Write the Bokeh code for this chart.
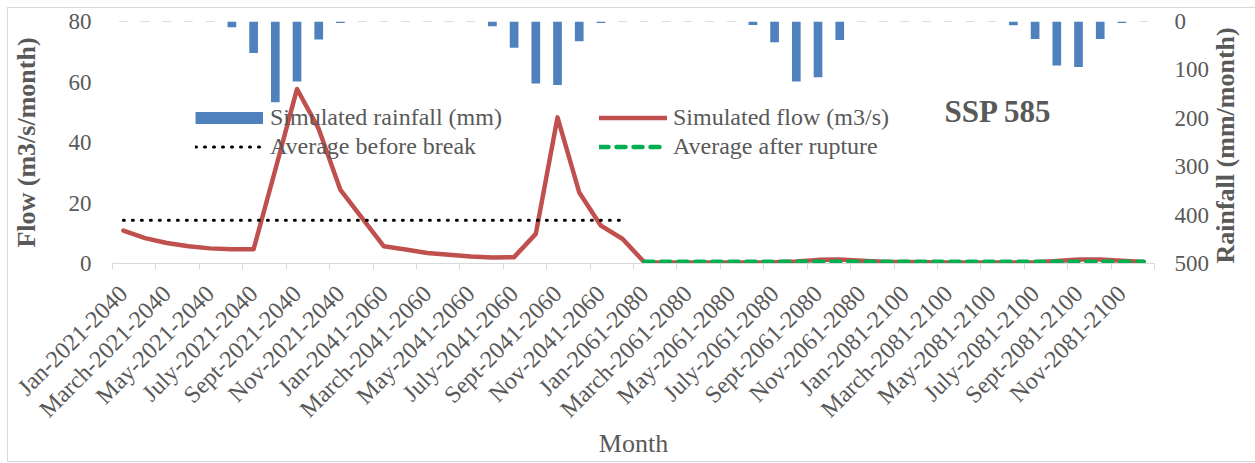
import numpy as np
from math import pi
from bokeh.plotting import figure
from bokeh.models import (Range1d, LinearAxis, FixedTicker, Legend, LegendItem, Label)
from bokeh.embed import file_html
from bokeh.resources import INLINE

# ---------------- data ----------------
month_names = ["Jan", "Feb", "March", "April", "May", "June",
               "July", "Aug", "Sept", "Oct", "Nov", "Dec"]
periods = ["2021-2040", "2041-2060", "2061-2080", "2081-2100"]
months = [f"{m}-{p}" for p in periods for m in month_names]

rainfall_mm = [
    0.8, 0.8, 0.8, 0.8, 0.8, 12, 65, 167, 124, 37, 3, 0.8,
    0.8, 0.8, 0.8, 0.8, 0.8, 10, 54, 128, 131, 41, 3, 0.8,
    0.8, 0.8, 0.8, 0.8, 0.8, 7, 43, 124, 115, 38, 1.2, 0.8,
    0.8, 0.8, 0.8, 0.8, 0.8, 8, 36, 91, 94, 36, 3, 0.8,
]
flow_m3s = [
    10.9, 8.4, 6.8, 5.7, 5.0, 4.7, 4.7, 31.0, 57.7, 44.5, 24.3, 15.0,
    5.7, 4.6, 3.5, 2.9, 2.3, 2.0, 2.1, 9.8, 48.3, 23.5, 12.5, 8.1,
    0.4, 0.35, 0.3, 0.3, 0.3, 0.3, 0.4, 0.7, 1.2, 1.3, 0.9, 0.6,
    0.5, 0.4, 0.35, 0.3, 0.3, 0.3, 0.4, 0.8, 1.3, 1.3, 0.9, 0.5,
]
avg_before_break = 14.3   # months 1-24
avg_after_rupture = 0.6   # months 25-48

FONT = "Liberation Serif"
GREY = "#595959"
AXIS = "#D9D9D9"

idx = list(range(len(months)))
n_before = 24

p = figure(frame_width=1042, frame_height=242, output_backend="svg", toolbar_location=None,
           x_range=Range1d(-0.5, 47.5), y_range=Range1d(0, 80),
           min_border_left=104, min_border_right=98,
           min_border_top=13, min_border_bottom=190)
p.styles = {"margin-left": "7px", "margin-top": "7px", "border": "1px solid #D9D9D9"}
p.extra_y_ranges = {"rain": Range1d(500, 0)}
p.xgrid.visible = False
p.ygrid.visible = False
p.outline_line_color = None
p.background_fill_color = "white"
p.border_fill_color = "white"

# ---------------- glyphs ----------------
bars = p.vbar(x=idx, top=rainfall_mm, bottom=0, width=0.4, y_range_name="rain",
              fill_color="#4F81BD", line_color=None)
flow_r = p.line(idx, flow_m3s, line_color="#C0504D", line_width=4.5,
                line_join="round", line_cap="round")
avg_b = p.line(idx[:n_before], [avg_before_break] * n_before, line_color="black",
               line_width=3, line_dash="1 8", line_cap="round")
avg_a = p.line(idx[n_before:], [avg_after_rupture] * (len(idx) - n_before),
               line_color="#00B050", line_width=4.5, line_dash="9 8", line_cap="round")
# legend key for the bar series (Excel shows a thick bar swatch)
rain_key = p.line(x=[float("nan")], y=[float("nan")], line_color="#4F81BD",
                  line_width=12, line_cap="butt")

# ---------------- axes ----------------
yl = p.left[0]
yl.ticker = FixedTicker(ticks=[0, 20, 40, 60, 80])
yl.axis_line_color = None
yl.major_tick_line_color = None
yl.minor_tick_line_color = None
yl.major_tick_out = 0
yl.major_tick_in = 0
yl.major_label_standoff = 21
yl.major_label_text_font = FONT
yl.major_label_text_font_size = "23px"
yl.major_label_text_color = GREY
yl.axis_label = "Flow (m3/s/month)"
yl.axis_label_text_font = FONT
yl.axis_label_text_font_style = "bold"
yl.axis_label_text_font_size = "26px"
yl.axis_label_text_color = GREY
yl.axis_label_standoff = 25

yr = LinearAxis(y_range_name="rain", ticker=FixedTicker(ticks=[0, 100, 200, 300, 400, 500]))
yr.axis_line_color = None
yr.major_tick_line_color = None
yr.minor_tick_line_color = None
yr.major_tick_out = 0
yr.major_tick_in = 0
yr.major_label_standoff = 20
yr.major_label_text_font = FONT
yr.major_label_text_font_size = "23px"
yr.major_label_text_color = GREY
yr.axis_label = "Rainfall (mm/month)"
yr.axis_label_text_font = FONT
yr.axis_label_text_font_style = "bold"
yr.axis_label_text_font_size = "26px"
yr.axis_label_text_color = GREY
yr.axis_label_standoff = 13
try:
    yr.axis_label_orientation = pi / 2   # read bottom-to-top like the left title
except Exception:
    pass
try:
    yr.axis_label_align = "end"
except Exception:
    pass
p.add_layout(yr, "right")

xb = p.below[0]
xb.ticker = FixedTicker(ticks=list(range(0, 48, 2)),
                        minor_ticks=[i - 0.5 for i in range(0, 49, 2)])
xb.major_label_overrides = {i: months[i] for i in range(0, 48, 2)}
xb.major_label_orientation = pi / 4
xb.axis_line_color = AXIS
xb.major_tick_line_color = None
xb.major_tick_out = 0
xb.major_tick_in = 0
xb.minor_tick_line_color = AXIS
xb.minor_tick_out = 6
xb.minor_tick_in = 0
xb.major_label_standoff = 20
xb.major_label_text_font = FONT
xb.major_label_text_font_size = "24px"
xb.major_label_text_color = GREY
xb.axis_label = "Month"
xb.axis_label_text_font = FONT
xb.axis_label_text_font_style = "normal"
xb.axis_label_text_font_size = "26px"
xb.axis_label_text_color = GREY
xb.axis_label_standoff = -5

# ---------------- legends ----------------
def make_legend(items, loc, gw, standoff):
    return Legend(items=items, location=loc, orientation="vertical",
                  border_line_color=None, background_fill_alpha=0,
                  padding=0, margin=0, spacing=2,
                  glyph_width=gw, glyph_height=27, label_height=27,
                  label_standoff=standoff, label_text_font=FONT,
                  label_text_font_size="24px", label_text_color=GREY)

leg1 = make_legend([LegendItem(label="Simulated rainfall (mm)", renderers=[rain_key]),
                    LegendItem(label="Average before break", renderers=[avg_b])],
                   (83, 103.5), 68, 7)
leg2 = make_legend([LegendItem(label="Simulated flow (m3/s)", renderers=[flow_r]),
                    LegendItem(label="Average after rupture", renderers=[avg_a])],
                   (487, 103.5), 68, 6)
p.add_layout(leg1)
p.add_layout(leg2)

# ---------------- texts ----------------
p.add_layout(Label(x=832, y=152, x_units="screen", y_units="screen", text="SSP 585",
                   text_font=FONT, text_font_style="bold", text_font_size="31px",
                   text_color=GREY, text_baseline="alphabetic", text_align="left"))

open("out.html", "w").write(file_html(p, INLINE))
